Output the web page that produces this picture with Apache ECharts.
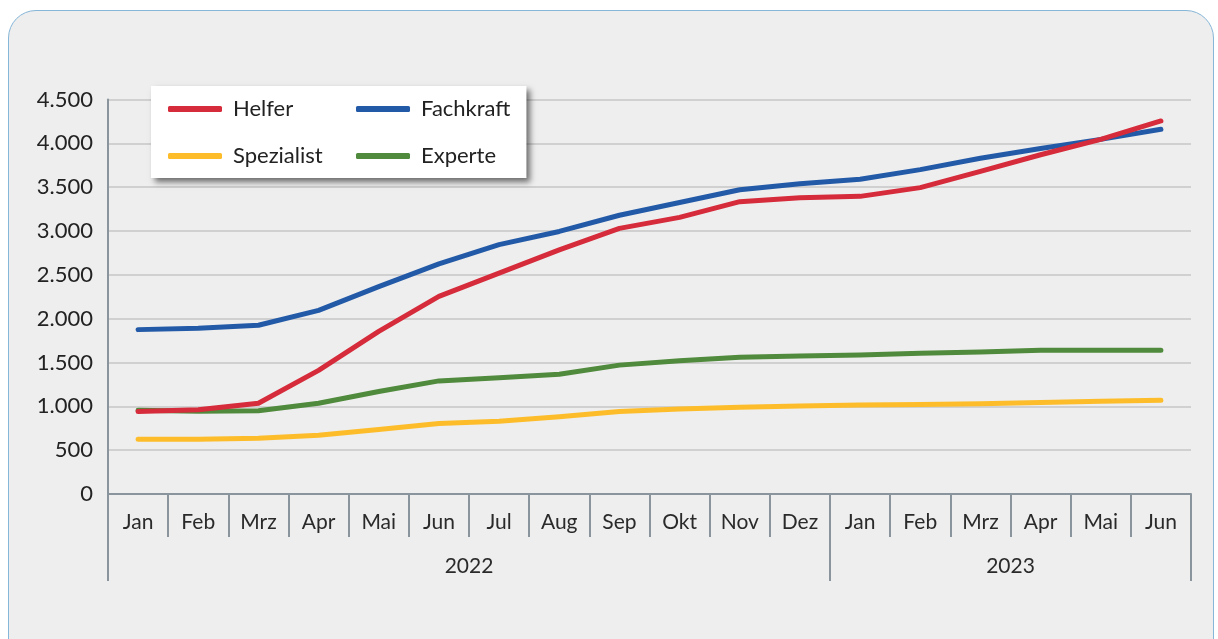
<!DOCTYPE html>
<html>
<head>
<meta charset="utf-8">
<script src="https://cdn.jsdelivr.net/npm/echarts@6/dist/echarts.min.js"></script>
<style>
  html, body { margin: 0; padding: 0; background: #ffffff; width: 1218px; height: 639px; overflow: hidden; }
  #frame { position: absolute; left: 8px; top: 10px; width: 1204px; height: 660px; border: 1.5px solid #86b6d8; border-radius: 28px; background: #eeeeee; }
  #chart { position: absolute; left: 0; top: 0; width: 1218px; height: 639px; }
</style>
</head>
<body>
<div id="frame"></div>
<div id="chart"></div>
<script>
const months = ['Jan','Feb','Mrz','Apr','Mai','Jun','Jul','Aug','Sep','Okt','Nov','Dez','Jan','Feb','Mrz','Apr','Mai','Jun'];
const years = ['2022', '2023'];
const yearTickPositions = [0, 12, 18];
const yearLabelPositions = [6, 15];
const helfer     = [940, 960, 1035, 1410, 1855, 2255, 2520, 2785, 3030, 3155, 3335, 3380, 3395, 3495, 3680, 3870, 4045, 4255];
const fachkraft  = [1875, 1890, 1925, 2095, 2365, 2625, 2845, 2995, 3180, 3325, 3470, 3540, 3590, 3700, 3830, 3940, 4045, 4160];
const spezialist = [625, 625, 635, 670, 735, 805, 830, 880, 940, 970, 990, 1005, 1015, 1020, 1030, 1045, 1058, 1068];
const experte    = [955, 945, 950, 1035, 1170, 1290, 1325, 1365, 1470, 1520, 1560, 1575, 1585, 1605, 1620, 1640, 1640, 1640];

const FONT = 'Lato';
const axisGray = '#8a949c';
const chart = echarts.init(document.getElementById('chart'), null, { renderer: 'canvas' });

function fmt(v) { return String(v).replace(/\B(?=(\d{3})+(?!\d))/g, '.'); }

function mkSeries(name, data, color) {
  return {
    name, type: 'line', data, xAxisIndex: 0, yAxisIndex: 0,
    showSymbol: false, symbol: 'none',
    lineStyle: { color, width: 5, cap: 'round', join: 'round' },
    itemStyle: { color },
    emphasis: { disabled: true },
    animation: false
  };
}

chart.setOption({
  backgroundColor: 'transparent',
  animation: false,
  textStyle: { fontFamily: FONT },
  grid: { left: 108, right: 27, top: 99.5, bottom: 145, containLabel: false },
  legend: {
    left: 151, top: 86,
    width: 400,
    orient: 'horizontal',
    data: ['Helfer', 'Fachkraft', 'Spezialist', 'Experte'],
    icon: 'roundRect',
    itemWidth: 54, itemHeight: 6,
    itemGap: 9,
    padding: [4, 16, 3, 17],
    backgroundColor: '#ffffff',
    shadowColor: 'rgba(0,0,0,0.55)', shadowBlur: 6, shadowOffsetX: 4, shadowOffsetY: 4,
    selectedMode: false,
    formatter: function (name) {
      return (name === 'Helfer' || name === 'Spezialist') ? '{a|' + name + '}' : '{b|' + name + '}';
    },
    textStyle: {
      fontFamily: FONT, fontSize: 22, color: '#222222', lineHeight: 38,
      rich: {
        a: { width: 114, fontFamily: FONT, fontSize: 22, color: '#222222', lineHeight: 38, padding: [0, 0, 0, 6] },
        b: { fontFamily: FONT, fontSize: 22, color: '#222222', lineHeight: 38, padding: [0, 0, 0, 6] }
      }
    }
  },
  xAxis: [
    {
      type: 'category', data: months, boundaryGap: true, position: 'bottom',
      axisLine: { show: true, lineStyle: { color: axisGray, width: 2 } },
      axisTick: { show: true, interval: 0, length: 43, lineStyle: { color: axisGray, width: 2 } },
      axisLabel: { interval: 0, margin: 18, fontFamily: FONT, fontSize: 21, color: '#2a2a2a' },
      splitLine: { show: false }
    },
    {
      type: 'value', min: 0, max: 18, position: 'bottom',
      axisLine: { show: false },
      axisTick: { show: true, customValues: yearTickPositions, length: 87, lineStyle: { color: axisGray, width: 2 } },
      axisLabel: {
        show: true, customValues: yearLabelPositions, margin: 62,
        fontFamily: FONT, fontSize: 21, color: '#2a2a2a',
        formatter: function (v) { return years[yearLabelPositions.indexOf(v)]; }
      },
      splitLine: { show: false }
    }
  ],
  yAxis: {
    type: 'value', min: 0, max: 4500, interval: 500,
    axisLine: { show: true, lineStyle: { color: axisGray, width: 2 } },
    axisTick: { show: false },
    axisLabel: { margin: 15, fontFamily: FONT, fontSize: 22, color: '#222222', formatter: v => fmt(v) },
    splitLine: { show: true, lineStyle: { color: '#d0d0d0', width: 2 } }
  },
  series: [
    mkSeries('Experte', experte, '#508a3c'),
    mkSeries('Spezialist', spezialist, '#fdbd2a'),
    mkSeries('Fachkraft', fachkraft, '#235aa8'),
    mkSeries('Helfer', helfer, '#d62b3a')
  ]
});
</script>
</body>
</html>
